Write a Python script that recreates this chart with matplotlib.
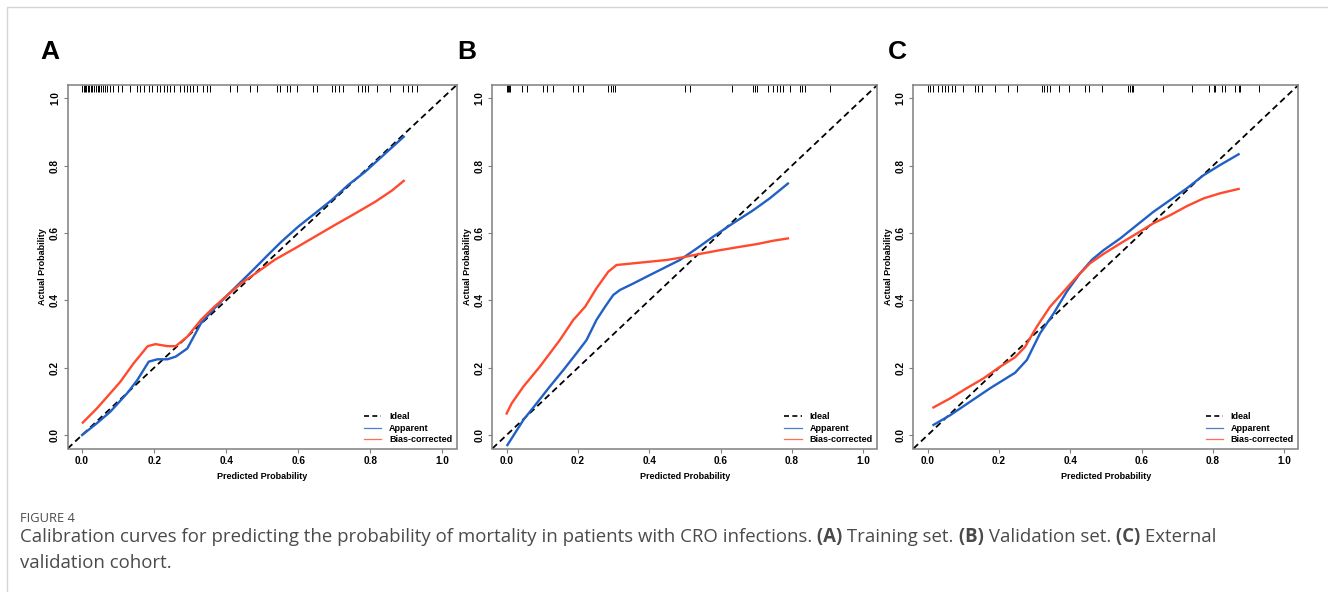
import numpy as np
import matplotlib.pyplot as plt
from matplotlib.lines import Line2D
from matplotlib.patches import Rectangle

plt.rcParams['font.family'] = ['Liberation Sans', 'DejaVu Sans']

# ---- data ----
# panel A : training set
a_app_x = [0.0, 0.041, 0.078, 0.125, 0.153, 0.185, 0.209, 0.237, 0.260, 0.292, 0.330, 0.367,
           0.404, 0.441, 0.479, 0.516, 0.553, 0.600, 0.646, 0.693, 0.739, 0.786, 0.832, 0.893]
a_app_y = [0.0, 0.035, 0.069, 0.124, 0.163, 0.218, 0.225, 0.225, 0.233, 0.257, 0.332, 0.376,
           0.416, 0.455, 0.495, 0.535, 0.574, 0.619, 0.658, 0.698, 0.743, 0.782, 0.827, 0.886]
a_bc_x = [0.002, 0.041, 0.074, 0.106, 0.143, 0.182, 0.204, 0.237, 0.260, 0.292, 0.330, 0.367,
          0.404, 0.441, 0.488, 0.534, 0.590, 0.646, 0.702, 0.758, 0.814, 0.860, 0.893]
a_bc_y = [0.037, 0.079, 0.119, 0.158, 0.213, 0.264, 0.270, 0.264, 0.264, 0.292, 0.342, 0.381,
          0.416, 0.450, 0.485, 0.520, 0.554, 0.589, 0.624, 0.658, 0.693, 0.726, 0.755]
a_rug = [0.0, 0.004, 0.008, 0.012, 0.016, 0.02, 0.024, 0.028, 0.033, 0.038, 0.043, 0.048, 0.053,
         0.058, 0.064, 0.07, 0.077, 0.087, 0.101, 0.111, 0.134, 0.153, 0.162, 0.171, 0.185, 0.194,
         0.208, 0.217, 0.226, 0.236, 0.245, 0.254, 0.273, 0.282, 0.291, 0.300, 0.309, 0.319, 0.337,
         0.347, 0.356, 0.411, 0.430, 0.467, 0.485, 0.541, 0.550, 0.568, 0.578, 0.596, 0.642, 0.652,
         0.693, 0.702, 0.712, 0.725, 0.767, 0.776, 0.786, 0.795, 0.818, 0.855, 0.892, 0.906, 0.915, 0.929]

# panel B : validation set
b_app_x = [0.002, 0.047, 0.084, 0.121, 0.159, 0.196, 0.224, 0.252, 0.276, 0.299, 0.318, 0.355,
           0.392, 0.439, 0.486, 0.533, 0.579, 0.635, 0.692, 0.738, 0.789]
b_app_y = [-0.03, 0.045, 0.094, 0.144, 0.193, 0.243, 0.282, 0.342, 0.381, 0.416, 0.431, 0.450,
           0.470, 0.495, 0.520, 0.554, 0.589, 0.629, 0.668, 0.703, 0.747]
b_bc_x = [0.0, 0.014, 0.047, 0.093, 0.149, 0.187, 0.220, 0.252, 0.285, 0.308, 0.355, 0.402,
          0.449, 0.495, 0.542, 0.598, 0.654, 0.701, 0.747, 0.789]
b_bc_y = [0.064, 0.094, 0.144, 0.203, 0.282, 0.342, 0.381, 0.436, 0.485, 0.505, 0.510, 0.515,
          0.520, 0.528, 0.538, 0.549, 0.559, 0.567, 0.577, 0.584]
b_rug = [0.0, 0.003, 0.006, 0.009, 0.042, 0.056, 0.103, 0.112, 0.131, 0.187, 0.201, 0.215, 0.285,
         0.292, 0.299, 0.304, 0.500, 0.514, 0.631, 0.691, 0.698, 0.703, 0.733, 0.747, 0.757, 0.766,
         0.775, 0.794, 0.822, 0.829, 0.836, 0.906]

# panel C : external validation cohort
c_app_x = [0.016, 0.063, 0.119, 0.175, 0.245, 0.278, 0.315, 0.353, 0.390, 0.427, 0.460, 0.493,
           0.540, 0.587, 0.633, 0.680, 0.727, 0.774, 0.820, 0.872]
c_app_y = [0.030, 0.059, 0.099, 0.139, 0.185, 0.223, 0.302, 0.361, 0.426, 0.480, 0.520, 0.549,
           0.584, 0.624, 0.663, 0.698, 0.733, 0.772, 0.802, 0.834]
c_bc_x = [0.016, 0.063, 0.109, 0.156, 0.203, 0.245, 0.273, 0.306, 0.343, 0.381, 0.418, 0.455,
          0.493, 0.540, 0.587, 0.633, 0.680, 0.727, 0.774, 0.820, 0.872]
c_bc_y = [0.082, 0.109, 0.139, 0.168, 0.203, 0.231, 0.262, 0.322, 0.381, 0.426, 0.470, 0.510,
          0.538, 0.569, 0.599, 0.629, 0.653, 0.680, 0.703, 0.718, 0.731]
c_rug = [0.0, 0.006, 0.016, 0.030, 0.039, 0.049, 0.058, 0.067, 0.077, 0.100, 0.133, 0.142, 0.152,
         0.189, 0.226, 0.250, 0.320, 0.326, 0.334, 0.343, 0.367, 0.395, 0.442, 0.451, 0.488, 0.563,
         0.568, 0.573, 0.577, 0.661, 0.741, 0.788, 0.802, 0.806, 0.825, 0.834, 0.862, 0.872, 0.876, 0.928]

panels = [
    ('A', a_app_x, a_app_y, a_bc_x, a_bc_y, a_rug),
    ('B', b_app_x, b_app_y, b_bc_x, b_bc_y, b_rug),
    ('C', c_app_x, c_app_y, c_bc_x, c_bc_y, c_rug),
]
ticks = [0.0, 0.2, 0.4, 0.6, 0.8, 1.0]
tick_labels = ['0.0', '0.2', '0.4', '0.6', '0.8', '1.0']

BLUE = '#2160c4'
RED = '#ff4a2e'
GREY = '#7f7f7f'

W, H = 1328, 592
fig = plt.figure(figsize=(W / 100, H / 100), dpi=100)

# card border
fig.add_artist(Rectangle((7 / W, -0.1), 1.2, 1 - 7 / H + 0.1, transform=fig.transFigure,
                         fill=False, edgecolor='#d4d4d4', lw=1.0))

# axes boxes in pixels (left, width)
boxes = [(67.7, 389.0), (492.4, 385.0), (913.5, 385.0)]
letter_x = [50, 467, 897]
bottom_px, height_px = 448.5, 363.6

for (letter, ax_, ay_, bx_, by_, rug), (lpx, wpx), lx in zip(panels, boxes, letter_x):
    ax = fig.add_axes([lpx / W, 1 - bottom_px / H, wpx / W, height_px / H])
    ax.set_xlim(-0.04, 1.04)
    ax.set_ylim(-0.04, 1.04)

    ax.plot([-0.04, 1.04], [-0.04, 1.04], color='black', lw=1.3, linestyle=(0, (3.5, 2.2)))
    ax.plot(ax_, ay_, color=BLUE, lw=1.7)
    ax.plot(bx_, by_, color=RED, lw=1.7)
    ax.vlines(rug, 1.020, 1.04, color='black', lw=0.7)

    ax.set_xticks(ticks)
    ax.set_xticklabels(tick_labels, weight='bold')
    ax.set_yticks(ticks)
    ax.set_yticklabels(tick_labels, rotation=90, va='center', weight='bold')
    ax.tick_params(length=3, width=0.8, color=GREY, labelsize=7.2, pad=2.5)
    for s in ax.spines.values():
        s.set_color(GREY)
        s.set_linewidth(1.1)
    ax.set_xlabel('Predicted Probability', fontsize=6.5, weight='bold', labelpad=4)
    ax.set_ylabel('Actual Probability', fontsize=6.5, weight='bold', labelpad=2)

    handles = [Line2D([], [], color='black', lw=1.2, linestyle=(0, (3, 2))),
               Line2D([], [], color=BLUE, lw=0.9, alpha=0.8),
               Line2D([], [], color=RED, lw=0.9, alpha=0.8)]
    ax.legend(handles, ['Ideal', 'Apparent', 'Bias-corrected'], loc='lower right', frameon=False,
              prop={'size': 6.5, 'weight': 'bold'}, handlelength=1.9, handletextpad=0.9,
              labelspacing=0.25, borderpad=0.2, borderaxespad=0.3)

    fig.text(lx / W, 1 - 52 / H, letter, fontsize=19, weight='bold', ha='center', va='center')

# caption
cap_kw = dict(family=['Open Sans', 'DejaVu Sans'], color='#4a4a4a', va='baseline')
fig.text(20 / W, 1 - 521.5 / H, 'FIGURE 4', fontsize=9.3, **cap_kw)

renderer = fig.canvas.get_renderer()


def rich_line(x_px, y_px, pieces, size):
    x = x_px / W
    for txt, wt in pieces:
        t = fig.text(x, 1 - y_px / H, txt, fontsize=size, weight=wt, **cap_kw)
        x += t.get_window_extent(renderer=renderer).width / W


line1 = [('Calibration curves for predicting the probability of mortality in patients with CRO infections.', 'normal'),
         (' (A)', 'bold'), (' Training set.', 'normal'),
         (' (B)', 'bold'), (' Validation set.', 'normal'),
         (' (C)', 'bold'), (' External', 'normal')]
rich_line(20, 542, line1, 13.4)
rich_line(20, 568, [('validation cohort.', 'normal')], 13.4)

fig.savefig('out.png', dpi=100)
